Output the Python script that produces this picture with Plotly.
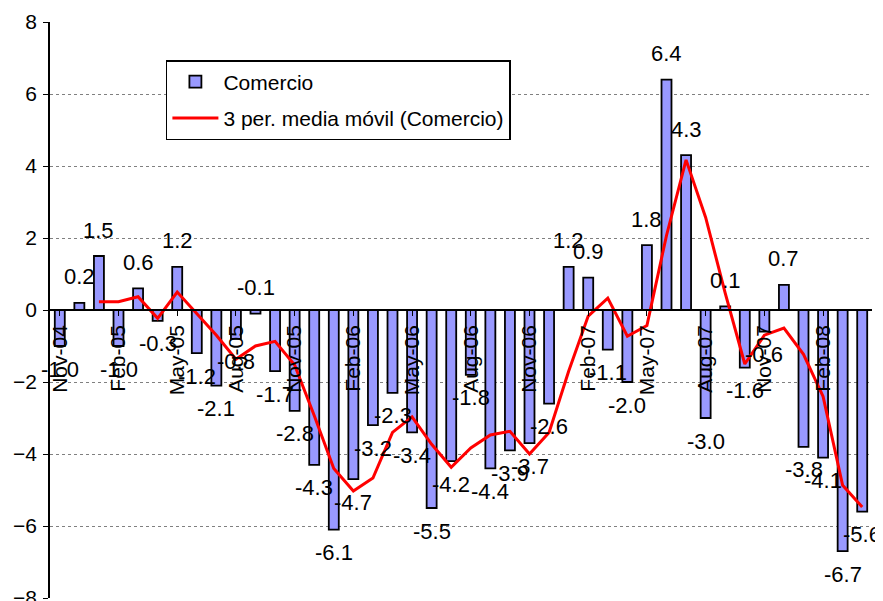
import plotly.graph_objects as go

months = ["Nov-04","Dec-04","Jan-05","Feb-05","Mar-05","Apr-05","May-05","Jun-05","Jul-05","Aug-05",
          "Sep-05","Oct-05","Nov-05","Dec-05","Jan-06","Feb-06","Mar-06","Apr-06","May-06","Jun-06",
          "Jul-06","Aug-06","Sep-06","Oct-06","Nov-06","Dec-06","Jan-07","Feb-07","Mar-07","Apr-07",
          "May-07","Jun-07","Jul-07","Aug-07","Sep-07","Oct-07","Nov-07","Dec-07","Jan-08","Feb-08",
          "Mar-08","Apr-08"]
comercio = [-1.0, 0.2, 1.5, -1.0, 0.6, -0.3, 1.2, -1.2, -2.1, -0.8,
            -0.1, -1.7, -2.8, -4.3, -6.1, -4.7, -3.2, -2.3, -3.4, -5.5,
            -4.2, -1.8, -4.4, -3.9, -3.7, -2.6, 1.2, 0.9, -1.1, -2.0,
            1.8, 6.4, 4.3, -3.0, 0.1, -1.6, -0.6, 0.7, -3.8, -4.1,
            -6.7, -5.6]
media_movil = [None, None, 0.23, 0.23, 0.37, -0.23, 0.50, -0.10, -0.70, -1.37,
               -1.00, -0.87, -1.53, -2.93, -4.40, -5.03, -4.67, -3.40, -2.97, -3.73,
               -4.37, -3.83, -3.47, -3.37, -4.00, -3.40, -1.70, -0.17, 0.33, -0.73,
               -0.43, 2.07, 4.17, 2.57, 0.47, -1.50, -0.70, -0.50, -1.23, -2.40,
               -4.87, -5.47]
tick_months = months[::3]
y_ticks = [-8, -6, -4, -2, 0, 2, 4, 6, 8]

FONT = "Liberation Sans, Arial, sans-serif"

fig = go.Figure()
fig.add_trace(go.Bar(
    x=months, y=comercio, name="Comercio", legendgroup="a",
    marker=dict(color="#9999FF", line=dict(color="black", width=1.8)),
))
fig.add_trace(go.Scatter(
    x=months, y=media_movil, name="3 per. media móvil (Comercio)", legendgroup="b",
    mode="lines", line=dict(color="#FF0000", width=3),
))

# data labels at the outside end of each bar
for m, v in zip(months, comercio):
    above = v >= -0.1
    fig.add_annotation(x=m, y=v, text=f"{v:.1f}", showarrow=False,
                       xanchor="center", yanchor="middle",
                       yshift=26 if above else -23,
                       font=dict(family=FONT, size=22, color="black"))

# the page body has an 8px margin, so the figure is sized to the remaining area
fig.update_layout(
    width=875, height=593,
    margin=dict(l=42, r=11, t=14, b=3, autoexpand=False),
    paper_bgcolor="white", plot_bgcolor="white",
    font=dict(family=FONT, size=21, color="black"),
    bargap=0.49,
    showlegend=True,
    legend=dict(x=0.141, y=0.934, xanchor="left", yanchor="top",
                bordercolor="black", borderwidth=1.5, bgcolor="white",
                font=dict(family=FONT, size=21), tracegroupgap=6, itemwidth=46),
    xaxis=dict(type="category", categoryorder="array", categoryarray=months,
               range=[-0.5, len(months) - 0.5], automargin=False,
               tickvals=tick_months, ticktext=tick_months, tickangle=-90,
               ticks="outside", ticklen=5, tickcolor="black",
               showline=True, linecolor="black", linewidth=1.5,
               showgrid=False, anchor="free", position=0.5,
               ticklabelstandoff=1, ticklabeloverflow="allow",
               tickfont=dict(family=FONT, size=21)),
    yaxis=dict(range=[-8, 8], tickvals=y_ticks, ticks="outside", ticklen=5,
               automargin=False,
               tickcolor="black", showline=True, linecolor="black", linewidth=1.5,
               showgrid=True, gridcolor="#808080", griddash="dot", gridwidth=1,
               zeroline=False, ticklabelstandoff=2, ticklabeloverflow="allow",
               tickfont=dict(family=FONT, size=21)),
)
fig.write_html("out.html")
